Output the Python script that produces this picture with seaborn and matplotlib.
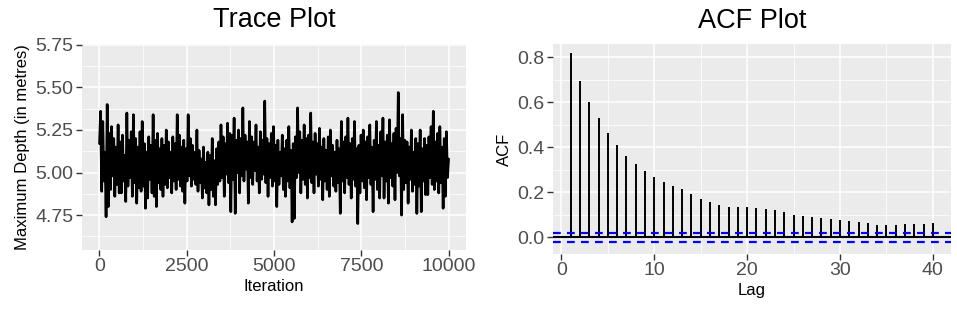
import numpy as np
import matplotlib.pyplot as plt
from matplotlib.ticker import MultipleLocator
import seaborn as sns

# MCMC trace of maximum depth (left to right)
trace_depth = [
    5.17, 5.36, 4.89, 5.30, 4.95, 5.12, 4.74, 5.40, 4.80, 5.23,
    4.90, 5.27, 4.98, 5.20, 4.86, 5.15, 4.93, 5.28, 4.88, 5.18,
    4.88, 5.22, 4.95, 5.10, 4.83, 5.35, 4.92, 5.19, 4.97, 5.24,
    4.86, 5.34, 4.94, 5.20, 4.82, 5.15, 4.91, 5.24, 4.89, 5.30,
    4.92, 5.17, 4.79, 5.12, 4.85, 5.21, 4.96, 5.16, 4.88, 5.34,
    4.86, 5.19, 4.80, 5.23, 4.94, 5.14, 4.90, 5.20, 4.86, 5.16,
    4.93, 5.25, 4.91, 5.18, 4.97, 5.12, 4.88, 5.21, 4.95, 5.17,
    4.90, 5.34, 4.96, 5.22, 4.92, 5.15, 4.89, 5.19, 4.82, 5.14,
    4.95, 5.34, 4.98, 5.20, 4.92, 5.16, 4.96, 5.12, 4.93, 5.25,
    4.89, 5.13, 4.94, 5.08, 4.85, 5.15, 4.91, 5.06, 4.88, 5.12,
    4.81, 5.10, 4.90, 5.20, 4.86, 5.07, 4.81, 5.14, 4.93, 5.18,
    4.95, 5.28, 4.97, 5.21, 4.86, 5.17, 4.99, 5.29, 4.94, 5.23,
    4.77, 5.22, 4.96, 5.32, 4.76, 5.19, 5.00, 5.25, 4.88, 5.20,
    4.98, 5.38, 4.95, 5.22, 5.02, 5.18, 4.82, 5.30, 4.97, 5.21,
    4.93, 5.18, 5.01, 5.28, 4.95, 5.15, 4.88, 5.24, 4.96, 5.19,
    4.99, 5.42, 4.94, 5.20, 4.86, 5.17, 4.97, 5.23, 4.92, 5.27,
    4.95, 5.16, 4.80, 5.19, 4.93, 5.12, 4.98, 5.22, 4.90, 5.14,
    4.86, 5.19, 4.95, 5.27, 4.91, 5.13, 4.71, 5.17, 4.73, 5.21,
    4.97, 5.38, 5.00, 5.24, 4.88, 5.19, 4.96, 5.28, 4.93, 5.20,
    4.85, 5.22, 4.97, 5.35, 4.94, 5.18, 4.88, 5.23, 4.99, 5.17,
    4.92, 5.26, 4.96, 5.15, 4.84, 5.20, 4.95, 5.13, 4.90, 5.21,
    4.86, 5.25, 4.98, 5.16, 4.92, 5.12, 4.89, 5.19, 4.94, 5.14,
    4.76, 5.30, 4.95, 5.18, 4.88, 5.21, 4.97, 5.32, 4.93, 5.17,
    4.85, 5.20, 4.96, 5.30, 4.92, 5.14, 4.70, 5.16, 4.88, 5.22,
    4.95, 5.25, 4.91, 5.18, 4.84, 5.21, 4.97, 5.28, 4.93, 5.15,
    4.77, 5.19, 4.96, 5.30, 4.90, 5.16, 4.85, 5.24, 4.98, 5.32,
    4.85, 5.18, 4.95, 5.22, 4.82, 5.31, 4.97, 5.17, 4.92, 5.23,
    4.84, 5.26, 5.00, 5.47, 4.98, 5.20, 4.75, 5.34, 4.90, 5.19,
    4.94, 5.18, 4.82, 5.15, 4.96, 5.25, 4.89, 5.12, 4.93, 5.20,
    4.76, 5.17, 4.92, 5.25, 4.77, 5.14, 4.95, 5.20, 4.87, 5.16,
    4.87, 5.21, 4.97, 5.27, 4.93, 5.36, 4.90, 5.18, 4.95, 5.23,
    4.88, 5.27, 4.94, 5.15, 4.79, 5.20, 4.86, 5.24, 4.97, 5.08,
]
iteration = np.linspace(1, 10000, len(trace_depth))

# autocorrelation by lag
acf_lag = list(range(1, 41))
acf_value = [
    0.818, 0.695, 0.600, 0.530, 0.465, 0.409, 0.363, 0.326, 0.293, 0.268,
    0.246, 0.230, 0.215, 0.193, 0.172, 0.159, 0.145, 0.136, 0.133, 0.133,
    0.129, 0.124, 0.120, 0.113, 0.099, 0.095, 0.089, 0.086, 0.080, 0.077,
    0.073, 0.070, 0.065, 0.056, 0.053, 0.056, 0.059, 0.059, 0.061, 0.065,
]
ci_bound = 0.0196

sns.set_theme(style='darkgrid', rc={
    'axes.facecolor': '#EBEBEB',
    'grid.color': 'white',
    'xtick.color': '#333333',
    'ytick.color': '#333333',
    'xtick.labelcolor': '#4D4D4D',
    'ytick.labelcolor': '#4D4D4D',
    'axes.labelcolor': 'black',
    'text.color': 'black',
})
plt.rcParams['font.family'] = ['Liberation Sans', 'DejaVu Sans']

fig = plt.figure(figsize=(9.57, 3.13), dpi=100)
ax1 = fig.add_axes([0.0857, 0.2013, 0.4013, 0.658])
ax2 = fig.add_axes([0.5775, 0.1885, 0.4162, 0.670])

# Trace plot
sns.lineplot(x=iteration, y=trace_depth, ax=ax1, color='black', lw=1.9)
ax1.set_xlim(-500, 10500)
ax1.set_ylim(4.545, 5.755)
ax1.xaxis.set_major_locator(MultipleLocator(2500))
ax1.xaxis.set_minor_locator(MultipleLocator(1250))
ax1.yaxis.set_major_locator(MultipleLocator(0.25))
ax1.yaxis.set_minor_locator(MultipleLocator(0.125))
ax1.set_title('Trace Plot', fontsize=19.5, pad=12, color='black')
ax1.set_xlabel('Iteration', fontsize=12, labelpad=3)
ax1.set_ylabel('Maximum Depth (in metres)', fontsize=12, labelpad=4)

# ACF plot
ax2.vlines(acf_lag, 0, acf_value, color='black', lw=1.4)
ax2.axhline(0, color='black', lw=1.5)
ax2.axhline(ci_bound, color='blue', lw=1.6, ls=(0, (3.5, 2.8)))
ax2.axhline(-ci_bound, color='blue', lw=1.6, ls=(0, (3.5, 2.8)))
ax2.set_xlim(-0.95, 41.95)
ax2.set_ylim(-0.074, 0.858)
ax2.xaxis.set_major_locator(MultipleLocator(10))
ax2.xaxis.set_minor_locator(MultipleLocator(5))
ax2.yaxis.set_major_locator(MultipleLocator(0.2))
ax2.yaxis.set_minor_locator(MultipleLocator(0.1))
ax2.set_title('ACF Plot', fontsize=19.5, pad=12, color='black')
ax2.set_xlabel('Lag', fontsize=12, labelpad=3)
ax2.set_ylabel('ACF', fontsize=12, labelpad=4)

for ax in (ax1, ax2):
    for s in ax.spines.values():
        s.set_visible(False)
    ax.grid(which='major', color='white', lw=1.1)
    ax.grid(which='minor', color='white', lw=0.55)
    ax.tick_params(which='major', length=4, width=1, labelsize=14, pad=2,
                   bottom=True, left=True)
    ax.tick_params(which='minor', length=0)
    ax.set_axisbelow(True)

plt.savefig('out.png', dpi=100)
